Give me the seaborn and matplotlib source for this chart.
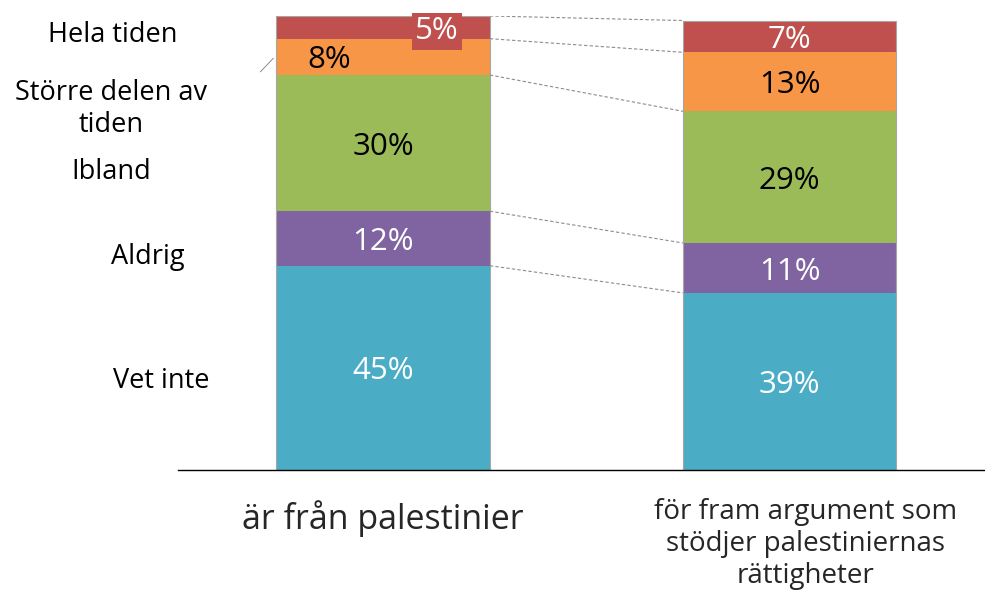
import matplotlib.pyplot as plt
import matplotlib.transforms as mtransforms
import numpy as np
import pandas as pd
import seaborn as sns

# Data.
categories = ["är från palestinier", "för fram argument som\nstödjer palestiniernas\nrättigheter"]
answers = ["Vet inte", "Aldrig", "Ibland", "Större delen av\ntiden", "Hela tiden"]
vet_inte = [45, 39]
aldrig = [12, 11]
ibland = [30, 29]
storre_delen = [8, 13]
hela_tiden = [5, 7]

colors = ["#4BACC6", "#8064A2", "#9BBB59", "#F79646", "#C0504D"]
text_colors = ["white", "white", "black", "black", "white"]

layers = np.array([vet_inte, aldrig, ibland, storre_delen, hela_tiden])
tops = layers.cumsum(axis=0)
bottoms = tops - layers

sns.set_theme(style="white")
plt.rcParams["font.family"] = ["Open Sans", "DejaVu Sans"]

fig = plt.figure(figsize=(9.85, 5.9), dpi=100)
ax = fig.add_axes([0.181, 0.2034, 0.82, 0.7695])

xs = ["a", "b"]
# draw cumulative bars from the top layer down so they stack
for i in range(len(answers) - 1, -1, -1):
    df = pd.DataFrame({"x": xs, "y": tops[i]})
    sns.barplot(data=df, x="x", y="y", color=colors[i], saturation=1,
                width=0.525, linewidth=0, ax=ax)

# thin grey outline around each whole bar
df = pd.DataFrame({"x": xs, "y": tops[-1]})
sns.barplot(data=df, x="x", y="y", color="white", facecolor="none",
            edgecolor="#a6a6a6", linewidth=0.8, width=0.525, ax=ax)

ax.set_xlim(-0.504, 1.483)
ax.set_ylim(0, 100)
ax.set_xlabel("")
ax.set_ylabel("")
ax.set_xticks([])
ax.set_yticks([])
for s in ["top", "right", "left"]:
    ax.spines[s].set_visible(False)
ax.spines["bottom"].set_color("black")
ax.spines["bottom"].set_linewidth(1.0)

# dashed connectors between the bars
half = 0.525 / 2
for i in range(len(answers)):
    ax.plot([0 + half, 1 - half], [tops[i][0], tops[i][1]], ls=(0, (3, 2)),
            color="#8c8c8c", lw=0.8, zorder=1)

# value labels
for i in range(len(answers)):
    for j in range(2):
        val = layers[i][j]
        cy = bottoms[i][j] + val / 2 - 0.8
        cx = j
        kw = {}
        if j == 0 and i == 4:
            cx = j + 0.132
            cy = 96.6
            kw["bbox"] = dict(boxstyle="square,pad=0.1", fc=colors[i], ec="none")
        if j == 0 and i == 3:
            cx = j - 0.133
        ax.text(cx, cy, f"{val}%", ha="center", va="center", fontsize=22.5,
                color=text_colors[i], zorder=5, **kw)

# answer labels on the left
label_pos = [(-0.546, 19.6), (-0.578, 47.0), (-0.669, 65.7), (-0.669, 79.6), (-0.666, 95.8)]
for txt, (lx, ly) in zip(answers, label_pos):
    ax.text(lx, ly, txt, ha="center", va="center", fontsize=19.5, color="black",
            linespacing=1.19)
ax.plot([-0.302, -0.27], [87.7, 90.7], color="#8c8c8c", lw=0.7, clip_on=False)

# category labels under the bars
trans = mtransforms.blended_transform_factory(ax.transData, fig.transFigure)
ax.text(0, 1 - 519 / 590, categories[0], transform=trans, ha="center", va="center",
        fontsize=24.5)
ax.text(1.04, 1 - 544 / 590, categories[1], transform=trans, ha="center", va="center",
        fontsize=20, linespacing=1.18)

fig.savefig("out.png", dpi=100)
